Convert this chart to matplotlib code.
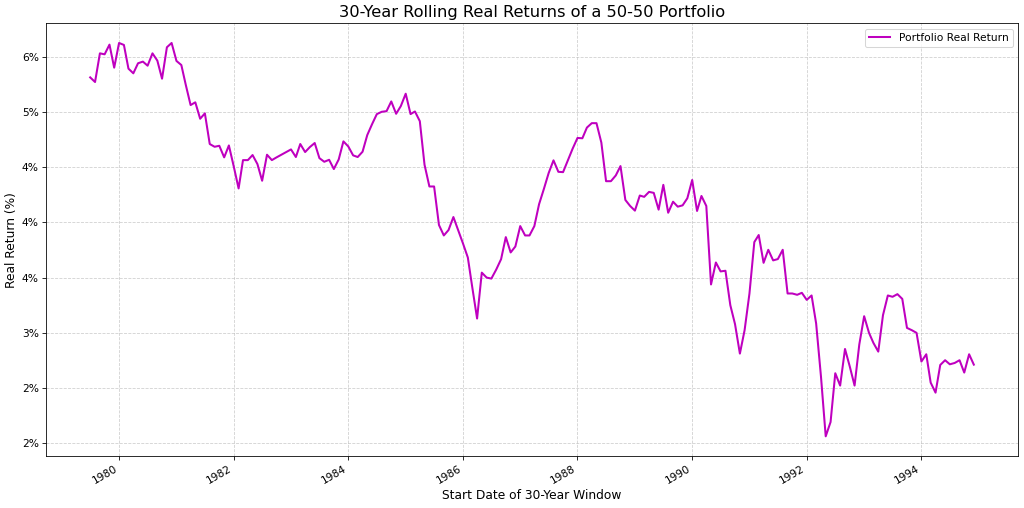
import matplotlib
matplotlib.use("Agg")
import matplotlib.pyplot as plt
import matplotlib.ticker as mtick
import pandas as pd

##! Data: 30-year rolling real return (%), monthly start dates
start_month = "1979-07-01"
real_return = [
    5.315, 5.273, 5.533, 5.524, 5.612, 5.403, 5.627, 5.609, 5.394, 5.352,
    5.443, 5.458, 5.421, 5.533, 5.467, 5.303, 5.588, 5.627, 5.464, 5.427,
    5.249, 5.064, 5.089, 4.940, 4.989, 4.711, 4.686, 4.695, 4.590, 4.698,
    4.508, 4.308, 4.565, 4.565, 4.611, 4.529, 4.378, 4.614, 4.565, 4.590,
    4.614, 4.638, 4.662, 4.593, 4.711, 4.638, 4.683, 4.720, 4.583, 4.550,
    4.568, 4.484, 4.571, 4.735, 4.689, 4.608, 4.593, 4.641, 4.792, 4.892,
    4.982, 5.003, 5.009, 5.097, 4.985, 5.055, 5.167, 4.982, 5.006, 4.918,
    4.523, 4.326, 4.326, 3.977, 3.882, 3.931, 4.049, 3.931, 3.810, 3.682,
    3.415, 3.129, 3.545, 3.500, 3.491, 3.573, 3.667, 3.867, 3.728, 3.782,
    3.967, 3.882, 3.882, 3.967, 4.165, 4.305, 4.447, 4.563, 4.459, 4.456,
    4.563, 4.669, 4.766, 4.763, 4.860, 4.900, 4.900, 4.724, 4.374, 4.374,
    4.426, 4.511, 4.204, 4.150, 4.107, 4.244, 4.232, 4.277, 4.268, 4.116,
    4.341, 4.088, 4.188, 4.143, 4.155, 4.219, 4.385, 4.104, 4.240, 4.149,
    3.438, 3.637, 3.556, 3.562, 3.250, 3.078, 2.811, 3.023, 3.356, 3.822,
    3.886, 3.634, 3.752, 3.656, 3.668, 3.752, 3.356, 3.356, 3.344, 3.362,
    3.298, 3.338, 3.084, 2.600, 2.061, 2.191, 2.633, 2.521, 2.853, 2.696,
    2.521, 2.893, 3.150, 2.999, 2.908, 2.829, 3.159, 3.338, 3.326, 3.350,
    3.307, 3.044, 3.023, 2.999, 2.739, 2.805, 2.548, 2.457, 2.708, 2.751,
    2.714, 2.726, 2.751, 2.639, 2.805, 2.711,
]
dates = pd.date_range(start_month, periods=len(real_return), freq="MS")

##! Plot:
dpi = 1024 / 14.0
fig, ax = plt.subplots(figsize=(14, 508 / dpi), dpi=dpi)
ax.plot(dates, real_return, color="m", linewidth=2, label="Portfolio Real Return")

ax.set_title("30-Year Rolling Real Returns of a 50-50 Portfolio", fontsize=16)
ax.set_xlabel("Start Date of 30-Year Window", fontsize=12)
ax.set_ylabel("Real Return (%)", fontsize=12)
ax.yaxis.set_major_formatter(mtick.FuncFormatter(lambda v, p: "{:.0f}%".format(v)))
ax.tick_params(labelsize=10.5)
ax.grid(True, linestyle="--", alpha=0.6)
ax.legend(loc="upper right", fontsize=10.5)
fig.autofmt_xdate()
fig.subplots_adjust(left=46/1024, right=1018/1024, bottom=1-456/508, top=1-23.3/508)
fig.savefig("out.png", dpi=dpi)
